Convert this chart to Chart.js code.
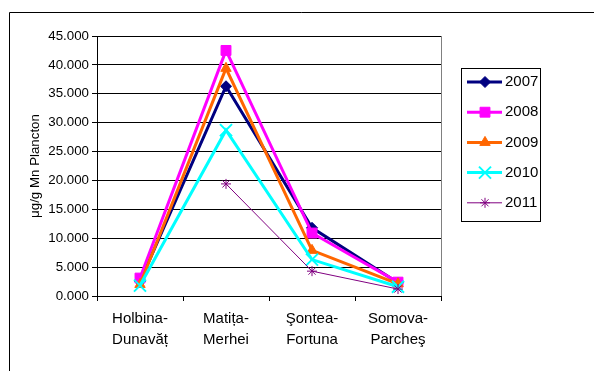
<!DOCTYPE html>
<html lang="ro">
<head>
<meta charset="UTF-8" />
<title>Mn plancton</title>
<script src="https://cdn.jsdelivr.net/npm/chart.js@4.4.0/dist/chart.umd.min.js"></script>
<style>
  html, body { margin:0; padding:0; background:#fff; }
  #wrap { width:594px; height:371px; }
</style>
</head>
<body>
<div id="wrap"><canvas id="mnChart" width="594" height="371"></canvas></div>
<script>
// statii
const statii = [['Holbina-', 'Dunavăț'], ['Matița-', 'Merhei'], ['Şontea-', 'Fortuna'], ['Somova-', 'Parcheş']];

// valori pe ani
const ani = ['2007', '2008', '2009', '2010', '2011'];
const v2007 = [2.5, 36.3, 11.8, 2.3];
const v2008 = [3.1, 42.5, 10.9, 2.4];
const v2009 = [2.0, 39.4, 7.9, 2.1];
const v2010 = [1.8, 28.7, 6.3, 1.6];
const v2011 = [null, 19.4, 4.3, 1.2];

const culori = ['#000080', '#FF00FF', '#FF6600', '#00FFFF', '#800080'];
const markere = ['rectRot', 'rect', 'triangle', 'crossRot', 'star'];
const raze = [5.5, 7, 6, 8.5, 5];
const grosimi = [3, 3, 3, 3, 1];
const valori = [v2007, v2008, v2009, v2010, v2011];

Chart.defaults.font.family = '"Liberation Sans", Arial, sans-serif';
Chart.defaults.font.size = 13.3;
Chart.defaults.color = '#000';

const seturi = ani.map((an, i) => ({
  label: an,
  data: valori[i],
  borderColor: culori[i],
  backgroundColor: culori[i],
  borderWidth: grosimi[i],
  pointStyle: markere[i],
  pointRadius: raze[i],
  pointHoverRadius: raze[i],
  pointBorderWidth: i == 3 ? 2 : 1,
  order: ani.length - i, // seriile noi desenate deasupra
  tension: 0
}));

// rama exterioara + marginea din dreapta a zonei de grafic
const rama = {
  id: 'rama',
  afterDraw(chart) {
    const ctx = chart.ctx, a = chart.chartArea;
    ctx.save();
    ctx.strokeStyle = '#000';
    ctx.lineWidth = 1;
    ctx.beginPath();
    ctx.moveTo(9.5, 371);
    ctx.lineTo(9.5, 12.5);
    ctx.lineTo(594, 12.5);
    ctx.stroke();
    ctx.strokeStyle = '#808080';
    ctx.beginPath();
    ctx.moveTo(Math.round(a.right) + 0.5, a.top);
    ctx.lineTo(Math.round(a.right) + 0.5, a.bottom);
    ctx.stroke();
    ctx.restore();
  }
};

// legenda cu linie + marker
const legenda = {
  id: 'legenda',
  afterDraw(chart) {
    const ctx = chart.ctx;
    ctx.save();
    ctx.strokeStyle = '#000';
    ctx.lineWidth = 1;
    ctx.strokeRect(461.5, 68.5, 79, 153);
    chart.data.datasets.forEach((ds, i) => {
      const y = 82 + i * 30.2;
      ctx.strokeStyle = ds.borderColor;
      ctx.fillStyle = ds.backgroundColor;
      ctx.lineWidth = ds.borderWidth;
      ctx.beginPath();
      ctx.moveTo(467, y);
      ctx.lineTo(502, y);
      ctx.stroke();
      ctx.lineWidth = ds.pointBorderWidth;
      Chart.helpers.drawPoint(ctx, {
        pointStyle: ds.pointStyle, radius: ds.pointRadius, rotation: 0, borderWidth: ds.pointBorderWidth
      }, 485, y);
      ctx.fillStyle = '#000';
      ctx.font = '15px "Liberation Sans", Arial, sans-serif';
      ctx.textBaseline = 'middle';
      ctx.textAlign = 'left';
      ctx.fillText(ds.label, 505, y);
    });
    ctx.restore();
  }
};

new Chart(document.getElementById('mnChart'), {
  type: 'line',
  data: { labels: statii, datasets: seturi },
  options: {
    responsive: false,
    animation: false,
    events: [],
    layout: { padding: { left: 23, top: 36, right: 153, bottom: 0 } },
    plugins: { legend: { display: false }, tooltip: { enabled: false } },
    scales: {
      x: {
        offset: true,
        grid: { offset: true, drawOnChartArea: false, drawTicks: true, tickLength: 5, color: '#000' },
        border: { color: '#000' },
        ticks: { padding: 8, maxRotation: 0, font: { size: 15, lineHeight: 1.35 } },
        afterFit(s) { s.height = 75; }
      },
      y: {
        min: 0, max: 45,
        grid: { color: '#000', tickLength: 5, tickColor: '#000' },
        border: { color: '#000' },
        ticks: { stepSize: 5, padding: 3, callback: v => v.toFixed(3) },
        title: { display: true, text: 'μg/g Mn Plancton', padding: { top: 4, bottom: 0 }, font: { size: 13.3 } },
        afterFit(s) { s.width = 74; }
      }
    }
  },
  plugins: [rama, legenda]
});
</script>
</body>
</html>
